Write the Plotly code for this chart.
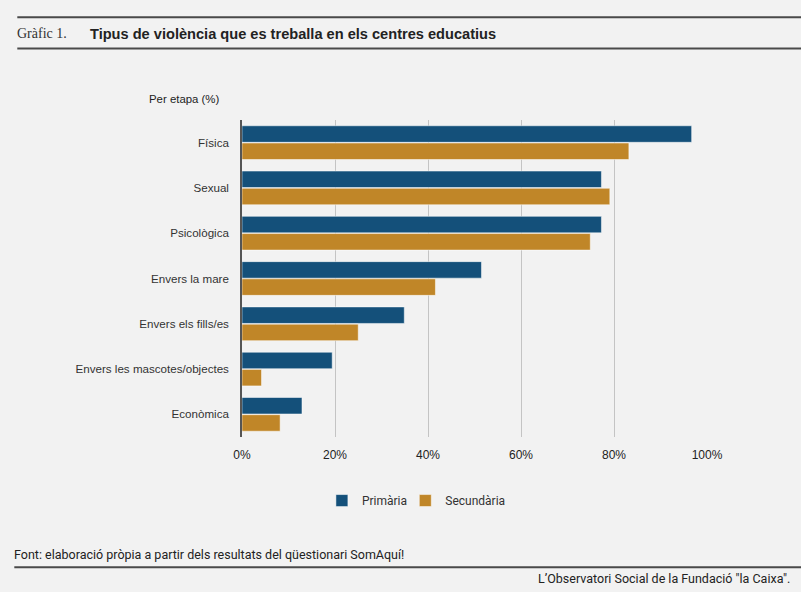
import plotly.graph_objects as go

categories = ["Física", "Sexual", "Psicològica", "Envers la mare",
              "Envers els fills/es", "Envers les mascotes/objectes", "Econòmica"]
primaria = [96.7, 77.3, 77.3, 51.5, 34.9, 19.4, 12.9]
secundaria = [83.2, 79.1, 74.9, 41.6, 25.0, 4.2, 8.2]
tick_vals = [0, 20, 40, 60, 80, 100]
tick_text = ["0%", "20%", "40%", "60%", "80%", "100%"]

W, H = 801, 592
L, R, T, B = 241.7, 94.3, 120.4, 155.4
pw, ph = W - L - R, H - T - B


def px(x):
    return (x - L) / pw


def py(y):
    return 1 - (y - T) / ph


blue = "#14507a"
gold = "#c08628"
sans = "Liberation Sans, Arial, sans-serif"

fig = go.Figure()
fig.add_trace(go.Bar(y=categories, x=primaria, name="Primària", orientation="h", legend="legend",
                     marker=dict(color=blue, line=dict(color="rgba(255,255,255,0.5)", width=1))))
fig.add_trace(go.Bar(y=categories, x=secundaria, name="Secundària", orientation="h", legend="legend2",
                     marker=dict(color=gold, line=dict(color="rgba(255,255,255,0.5)", width=1))))

leg_font = dict(family="Roboto, sans-serif", size=12, color="#333333")

fig.update_layout(
    width=W, height=H,
    margin=dict(l=L, r=R, t=T, b=B),
    paper_bgcolor="#f2f2f2", plot_bgcolor="#f2f2f2",
    barmode="group", bargap=0.24, bargroupgap=0.04,
    font=dict(family=sans, size=12, color="#333333"),
    showlegend=True,
    legend=dict(orientation="h", x=px(321.6), y=py(500), xanchor="left", yanchor="middle",
                font=leg_font, itemwidth=30, bgcolor="rgba(0,0,0,0)"),
    legend2=dict(orientation="h", x=px(405), y=py(500), xanchor="left", yanchor="middle",
                 font=leg_font, itemwidth=30, bgcolor="rgba(0,0,0,0)"),
    xaxis=dict(tickvals=tick_vals, ticktext=tick_text,
               showgrid=True, gridcolor="#c4c4c4", gridwidth=1, zeroline=False,
               ticks="", ticklabelstandoff=9, tickfont=dict(size=12, color="#222222")),
    yaxis=dict(autorange="reversed", showline=True, linecolor="#555555", linewidth=1.5,
               ticks="", ticklabelstandoff=9, tickfont=dict(size=11.6, color="#333333")),
)
fig.update_xaxes(range=[0, 100 * (pw / (706.7 - L))])

# header rules and titles
for y in (18, 49):
    fig.add_shape(type="line", xref="paper", yref="paper", x0=px(17), x1=px(801),
                  y0=py(y), y1=py(y), line=dict(color="#4a4a4a", width=2))
fig.add_shape(type="line", xref="paper", yref="paper", x0=px(14), x1=px(801),
              y0=py(566.5), y1=py(566.5), line=dict(color="#4a4a4a", width=2))

fig.add_annotation(text="Gràfic 1.", xref="paper", yref="paper", x=px(15), y=py(34.5),
                   xanchor="left", yanchor="middle", showarrow=False,
                   font=dict(family="Liberation Serif, serif", size=14, color="#333333"))
fig.add_annotation(text="<b>Tipus de violència que es treballa en els centres educatius</b>",
                   xref="paper", yref="paper", x=px(88), y=py(34.5),
                   xanchor="left", yanchor="middle", showarrow=False,
                   font=dict(family=sans, size=14.6, color="#222222"))
fig.add_annotation(text="Per etapa (%)", xref="paper", yref="paper", x=px(147), y=py(99),
                   xanchor="left", yanchor="middle", showarrow=False,
                   font=dict(family=sans, size=11.4, color="#222222"))
fig.add_annotation(text="Font: elaboració pròpia a partir dels resultats del qüestionari SomAquí!",
                   xref="paper", yref="paper", x=px(12), y=py(554),
                   xanchor="left", yanchor="middle", showarrow=False,
                   font=dict(family="Roboto, sans-serif", size=12.5, color="#222222"))
fig.add_annotation(text="L’Observatori Social de la Fundació \"la Caixa\".",
                   xref="paper", yref="paper", x=px(792), y=py(578),
                   xanchor="right", yanchor="middle", showarrow=False,
                   font=dict(family="Roboto, sans-serif", size=12.5, color="#222222"))

fig.write_html("out.html", config={"displayModeBar": False},
               post_script="document.body.style.margin='0';document.body.style.overflow='hidden';")
